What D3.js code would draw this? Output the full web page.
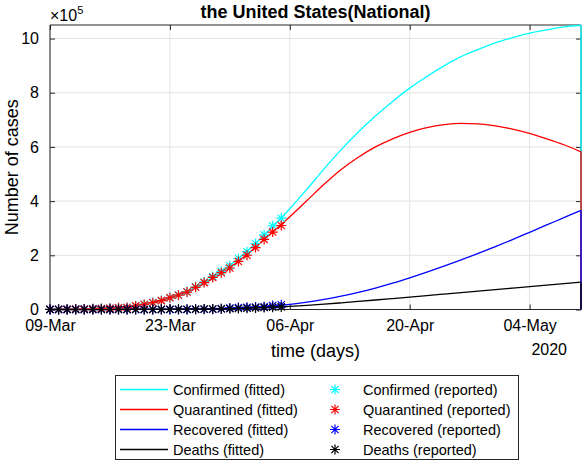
<!DOCTYPE html>
<html><head><meta charset="utf-8">
<script src="https://cdn.jsdelivr.net/npm/d3@7"></script>
<style>
body{margin:0;background:#fff;}
text{font-family:"Liberation Sans",Arial,Helvetica,sans-serif;}
</style></head>
<body><svg id="chart" width="582" height="461"></svg>
<script>
// ---------- data ----------
const startDate = "2020-03-09";
const endDay = 62;                                  // 10-May-2020
const tickDays = [0, 14, 28, 42, 56];
const yTicks = [0, 2, 4, 6, 8, 10];                 // x 10^5
const yMax = 10.5;

// reported (daily, 09-Mar .. 05-Apr)
const reportedConfirmed = [605,959,1281,1663,2179,2726,3499,4632,6421,7786,13680,19101,25493,33276,43847,53740,65778,83836,101657,121478,140886,161807,188172,213372,243453,275586,308850,337072];
const reportedQuarantined = [575,923,1237,1611,2120,2660,3424,4530,6296,7563,13359,18710,25010,32671,43117,52686,64475,81946,99207,118380,135754,153185,177275,200141,228526,258792,285791,310005];
const reportedRecovered = [8,8,8,12,12,12,12,17,17,105,121,147,176,178,178,348,361,681,869,1072,2665,5644,7024,8474,9001,9707,14652,17448];
const reportedDeaths = [22,28,36,40,47,54,63,85,108,118,200,244,307,427,552,706,942,1209,1581,2026,2467,2978,3873,4757,5926,7087,8407,9619];

// fitted (every 2 days, 09-Mar .. 10-May), units of 10^5
const fitDays = [0,2,4,6,8,10,12,14,16,18,20,22,24,26,28,30,32,34,36,38,40,42,44,46,48,50,52,54,56,58,60,62];
const fitConfirmed = [0.006,0.012,0.025,0.05,0.09,0.16,0.27,0.44,0.67,0.99,1.39,1.88,2.45,3.06,3.72,4.44,5.19,5.9,6.55,7.14,7.68,8.17,8.6,8.99,9.33,9.6,9.84,10.03,10.2,10.32,10.43,10.49];
const fitQuarantined = [0.006,0.012,0.025,0.05,0.09,0.155,0.26,0.43,0.65,0.96,1.33,1.78,2.3,2.86,3.42,4.02,4.62,5.17,5.62,6.0,6.3,6.54,6.71,6.82,6.87,6.85,6.78,6.66,6.5,6.3,6.08,5.82];
const fitRecovered = [0.0001,0.0001,0.0002,0.0004,0.001,0.002,0.004,0.008,0.015,0.025,0.04,0.06,0.09,0.13,0.19,0.27,0.37,0.49,0.63,0.79,0.97,1.17,1.38,1.6,1.83,2.07,2.32,2.58,2.85,3.12,3.39,3.66];
const fitDeaths = [0.0002,0.0004,0.0005,0.0008,0.0011,0.002,0.003,0.0055,0.0095,0.016,0.025,0.039,0.059,0.084,0.112,0.15,0.195,0.245,0.297,0.35,0.405,0.46,0.515,0.57,0.625,0.68,0.735,0.79,0.845,0.9,0.955,1.01];

const seriesNames = ["Confirmed","Quarantined","Recovered","Deaths"];
const seriesColors = ["#00ffff","#ff0000","#0000ff","#000000"];

// ---------- layout ----------
const svg = d3.select("#chart");
const L = 50, R = 581, T = 25, B = 309.5;
const font = '"Liberation Sans",Arial,Helvetica,sans-serif';
const axisColor = "#262626";

const t0 = d3.utcParse("%Y-%m-%d")(startDate);
const day = d => d3.utcDay.offset(t0, d);
const x = d3.scaleUtc().domain([t0, day(endDay)]).range([L, R]);
const y = d3.scaleLinear().domain([0, yMax]).range([B, T]);
const fmt = d3.utcFormat("%d-%b");

// grid
const grid = svg.append("g");
grid.selectAll(".gx").data(tickDays).join("line")
  .attr("x1", d => x(day(d))).attr("x2", d => x(day(d)))
  .attr("y1", T).attr("y2", B).attr("stroke", "#e3e3e3").attr("stroke-width", 1);
grid.selectAll(".gy").data(yTicks).join("line")
  .attr("y1", d => y(d)).attr("y2", d => y(d))
  .attr("x1", L).attr("x2", R).attr("stroke", "#e3e3e3").attr("stroke-width", 1);

// axes (ticks inward, box)
const tickLen = 5;
const xAxisB = d3.axisBottom(x).tickValues(tickDays.map(day)).tickSize(-tickLen).tickFormat(fmt).tickPadding(10);
const xAxisT = d3.axisTop(x).tickValues(tickDays.map(day)).tickSize(-tickLen).tickFormat("");
const yAxisL = d3.axisLeft(y).tickValues(yTicks).tickSize(-tickLen).tickFormat(d3.format("d")).tickPadding(11);
const yAxisR = d3.axisRight(y).tickValues(yTicks).tickSize(-tickLen).tickFormat("");

function style(g){
  g.select(".domain").attr("stroke", axisColor).attr("stroke-width", 1);
  g.selectAll(".tick line").attr("stroke", axisColor).attr("stroke-width", 1);
  g.selectAll(".tick text").attr("fill", "#000").style("font-family", font).style("font-size", "16px");
}
svg.append("g").attr("transform", `translate(0,${B})`).call(xAxisB).call(style)
  .call(g => g.select(".domain").attr("d", `M${L},0H${R}`));
svg.append("g").attr("transform", `translate(0,${T})`).call(xAxisT).call(style)
  .call(g => g.select(".domain").attr("d", `M${L},0H${R}`));
svg.append("g").attr("transform", `translate(${L},0)`).call(yAxisL).call(style)
  .call(g => g.select(".domain").attr("d", `M0,${T}V${B}`));
svg.append("g").attr("transform", `translate(${R},0)`).call(yAxisR).call(style)
  .call(g => g.select(".domain").attr("d", `M0,${T}V${B}`));

// exponent label
const ex = svg.append("text").attr("x", L).attr("y", 21).attr("font-size", 16).attr("fill", "#000");
ex.append("tspan").text("\u00d710");
ex.append("tspan").attr("font-size", 11).attr("dy", -7).text("5");

// title and labels
svg.append("text").attr("x", (L + R) / 2).attr("y", 18).attr("text-anchor", "middle")
  .attr("font-size", 18).attr("font-weight", "bold").text("the United States(National)");
svg.append("text").attr("x", (L + R) / 2).attr("y", 357).attr("text-anchor", "middle")
  .attr("font-size", 18).text("time (days)");
svg.append("text").attr("transform", `translate(18,${(T + B) / 2}) rotate(-90)`).attr("text-anchor", "middle")
  .attr("font-size", 18).text("Number of cases");
svg.append("text").attr("x", 567).attr("y", 355).attr("text-anchor", "end")
  .attr("font-size", 16).text("2020");

// fitted lines
const fitted = [fitConfirmed, fitQuarantined, fitRecovered, fitDeaths];
const reported = [reportedConfirmed, reportedQuarantined, reportedRecovered, reportedDeaths];
const line = d3.line().x(d => x(day(d[0]))).y(d => y(d[1])).curve(d3.curveMonotoneX);
const drop = d3.line().x(d => x(day(d[0]))).y(d => y(d[1]));
fitted.forEach((vals, i) => {
  const pts = fitDays.map((d, k) => [d, vals[k]]);
  svg.append("path").datum(pts).attr("d", line).attr("fill", "none")
    .attr("stroke", seriesColors[i]).attr("stroke-width", 1.3);
  const last = pts[pts.length - 1];
  svg.append("path").datum([last, [last[0], 0]]).attr("d", drop).attr("fill", "none")
    .attr("stroke", seriesColors[i]).attr("stroke-width", 1.3);
});

// asterisk marker
const r = 5, a = 3.6;
const star = `M${-r},0H${r}M0,${-r}V${r}M${-a},${-a}L${a},${a}M${-a},${a}L${a},${-a}`;
reported.forEach((vals, i) => {
  svg.append("g").selectAll("path").data(vals).join("path")
    .attr("transform", (v, k) => `translate(${x(day(k))},${y(v / 1e5)})`)
    .attr("d", star).attr("fill", "none").attr("stroke", seriesColors[i]).attr("stroke-width", 1.2);
});

// legend
const lg = svg.append("g");
lg.append("rect").attr("x", 115.5).attr("y", 375.5).attr("width", 403).attr("height", 84)
  .attr("fill", "#fff").attr("stroke", axisColor).attr("stroke-width", 1);
seriesNames.forEach((name, i) => {
  const yy = 389.5 + i * 20;
  lg.append("path").attr("d", `M120,${yy}H168`).attr("fill", "none")
    .attr("stroke", seriesColors[i]).attr("stroke-width", 1.5);
  lg.append("text").attr("x", 173).attr("y", yy + 5).attr("font-size", 14.5).text(name + " (fitted)");
  lg.append("path").attr("transform", `translate(335,${yy})`).attr("d", star)
    .attr("fill", "none").attr("stroke", seriesColors[i]).attr("stroke-width", 1.2);
  lg.append("text").attr("x", 363).attr("y", yy + 5).attr("font-size", 14.5).text(name + " (reported)");
});
</script></body></html>
